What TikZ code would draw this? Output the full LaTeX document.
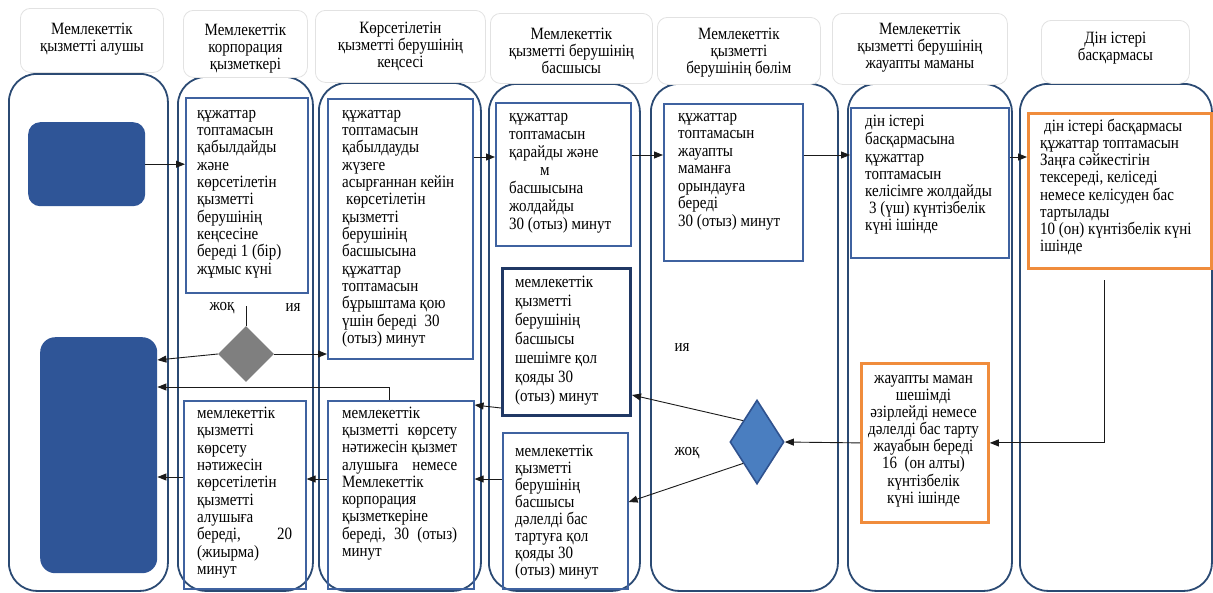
\documentclass[tikz,border=0pt]{standalone}
\usepackage{fontspec}
\setmainfont{Liberation Serif}
\usetikzlibrary{arrows.meta,shapes.geometric,calc}
\definecolor{lanec}{HTML}{2B4A73}
\definecolor{boxc}{HTML}{3F62A0}
\definecolor{boxd}{HTML}{203864}
\definecolor{fillb}{HTML}{2F5597}
\definecolor{diab}{HTML}{4A7EC0}
\definecolor{diabd}{HTML}{2F528F}
\definecolor{grayd}{HTML}{7F7F7F}
\definecolor{orc}{HTML}{F08C3C}
\definecolor{hdrc}{HTML}{E2E2E2}
\definecolor{arrc}{HTML}{1A1A1A}
% text block: width, baselineskip (before vertical stretch), text
\newcommand\boxtext[3]{\scalebox{1}[1.15]{\parbox[t]{#1}{\fontsize{15}{#2}\selectfont\raggedright\strut #3}}}
\newcommand\boxtextc[3]{\scalebox{1}[1.15]{\parbox[t]{#1}{\fontsize{15}{#2}\selectfont\centering\strut #3}}}
\newcommand\hdrtext[2]{\scalebox{1}[1.15]{\parbox{#1}{\fontsize{15}{14.8}\selectfont\centering #2}}}
\begin{document}
\begin{tikzpicture}[x=1pt,y=-1pt,
  lane/.style={draw=lanec, line width=1.8pt, rounded corners=28pt, anchor=north west, inner sep=0pt},
  hdr/.style={draw=hdrc, line width=0.8pt, rounded corners=10pt, fill=white, anchor=north west, inner sep=0pt},
  hdrt/.style={inner sep=0pt},
  bx/.style={draw=boxc, line width=1.6pt, anchor=north west, inner sep=0pt},
  bxd/.style={draw=boxd, line width=3pt, anchor=north west, inner sep=0pt},
  obx/.style={draw=orc, line width=2.8pt, anchor=north west, inner sep=0pt},
  fbx/.style={fill=fillb, rounded corners=12pt, anchor=north west, inner sep=0pt},
  txt/.style={anchor=north west, inner sep=0pt},
  arr/.style={draw=arrc, line width=0.9pt, -{Triangle[length=9pt,width=7pt]}},
  ln/.style={draw=arrc, line width=0.9pt},
  lbl/.style={inner sep=0pt, font=\fontsize{15}{17}\selectfont}
]
\useasboundingbox (0,0) rectangle (1213,592);
% lanes
\node[lane, minimum width=159, minimum height=517] (L1) at (8,73) {};
\node[lane, minimum width=135, minimum height=514] (L2) at (177,76) {};
\node[lane, minimum width=162, minimum height=508] (L3) at (318,82) {};
\node[lane, minimum width=151, minimum height=507] (L4) at (488,83) {};
\node[lane, minimum width=187, minimum height=507] (L5) at (650,83) {};
\node[lane, minimum width=164, minimum height=507] (L6) at (847,83) {};
\node[lane, minimum width=192, minimum height=507] (L7) at (1019,83) {};
% headers
\node[hdr, minimum width=143, minimum height=64] (H1) at (20,8) {};
\node[hdr, minimum width=124, minimum height=67] (H2) at (183,10) {};
\node[hdr, minimum width=170, minimum height=72] (H3) at (315,10) {};
\node[hdr, minimum width=162, minimum height=70] (H4) at (490,13) {};
\node[hdr, minimum width=163, minimum height=67] (H5) at (657,17) {};
\node[hdr, minimum width=175, minimum height=71] (H6) at (832,13) {};
\node[hdr, minimum width=148, minimum height=63] (H7) at (1041,20) {};
\node[hdrt] (H1t) at ([yshift=1pt]H1.center) {\hdrtext{140pt}{Мемлекеттік\\қызметті алушы}};
\node[hdrt] (H2t) at ([yshift=-5pt]H2.center) {\hdrtext{124pt}{Мемлекеттік\\корпорация\\қызметкері}};
\node[hdrt] (H3t) at ([yshift=0pt]H3.center) {\hdrtext{170pt}{Көрсетілетін\\қызметті берушінің\\кеңсесі}};
\node[hdrt] (H4t) at ([yshift=-2pt]H4.center) {\hdrtext{162pt}{Мемлекеттік\\қызметті берушінің\\басшысы}};
\node[hdrt] (H5t) at ([yshift=-2pt]H5.center) {\hdrtext{163pt}{Мемлекеттік\\қызметті\\берушінің бөлім}};
\node[hdrt] (H6t) at ([yshift=1pt]H6.center) {\hdrtext{175pt}{Мемлекеттік\\қызметті берушінің\\жауапты маманы}};
\node[hdrt] (H7t) at ([yshift=4pt]H7.center) {\hdrtext{148pt}{Дін істері\\басқармасы}};
% filled blocks
\node[fbx, minimum width=117, minimum height=84] (R1) at (28,122) {};
\node[fbx, minimum width=117, minimum height=236, rounded corners=15pt] (R2) at (40,337) {};
% boxes
\node[bx, minimum width=122, minimum height=195] (A) at (185,97) {};
\node[bx, minimum width=145, minimum height=260] (B) at (327,98) {};
\node[bx, minimum width=135, minimum height=143] (C) at (495,102) {};
\node[bxd, minimum width=128, minimum height=147] (D) at (501,267) {};
\node[bx, minimum width=125, minimum height=156] (E) at (502,432) {};
\node[bx, minimum width=139, minimum height=157] (F) at (663,103) {};
\node[bx, minimum width=158, minimum height=150] (G) at (850,107) {};
\node[obx, minimum width=183, minimum height=155] (H) at (1027,112) {};
\node[obx, minimum width=127, minimum height=159] (I) at (860,362) {};
\node[bx, minimum width=122, minimum height=188] (J) at (183,400) {};
\node[bx, minimum width=146, minimum height=188] (K) at (327,400) {};
% diamonds
\node[diamond, fill=grayd, minimum width=56, minimum height=56, inner sep=0pt] (GD) at (246,354) {};
\node[diamond, fill=diab, draw=diabd, line width=1.6pt, minimum width=54, minimum height=84, inner sep=0pt] (BD) at (757,442) {};
% texts
\node[txt] (At) at (197,106) {\boxtext{110pt}{15.05pt}{құжаттар\\топтамасын\\қабылдайды\\және\\көрсетілетін\\қызметті\\берушінің\\кеңсесіне\\береді 1 (бір)\\жұмыс күні}};
\node[txt] (Bt) at (342,106) {\boxtext{125pt}{15.05pt}{құжаттар\\топтамасын\\қабылдауды\\жүзеге\\асырғаннан кейін\\\hspace*{4pt}көрсетілетін\\қызметті\\берушінің\\басшысына\\құжаттар\\топтамасын\\бұрыштама қою\\үшін береді\ \ 30\\(отыз) минут}};
\node[txt] (Ct) at (509,109) {\boxtext{118pt}{15.65pt}{құжаттар\\топтамасын\\қарайды және\\\hspace*{31pt}м\\басшысына\\жолдайды\\30 (отыз) минут}};
\node[txt] (Dt) at (515,274) {\boxtext{110pt}{16.5pt}{мемлекеттік\\қызметті\\берушінің\\басшысы\\шешімге қол\\қояды 30\\(отыз) минут}};
\node[txt] (Et) at (515,444) {\boxtext{110pt}{14.8pt}{мемлекеттік\\қызметті\\берушінің\\басшысы\\дәлелді бас\\тартуға қол\\қояды 30\\(отыз) минут}};
\node[txt] (Ft) at (678,109) {\boxtext{120pt}{15.2pt}{құжаттар\\топтамасын\\жауапты\\маманға\\орындауға\\береді\\30 (отыз) минут}};
\node[txt] (Gt) at (865,114) {\boxtext{140pt}{14.95pt}{дін істері\\басқармасына\\құжаттар\\топтамасын\\келісімге жолдайды\\\hspace*{4pt}3 (үш) күнтізбелік\\күні ішінде}};
\node[txt] (Ht) at (1040,119) {\boxtext{168pt}{14.9pt}{\hspace*{4pt}дін істері басқармасы\\құжаттар топтамасын\\Заңға сәйкестігін\\тексереді, келіседі\\немесе келісуден бас\\тартылады\\10 (он) күнтізбелік күні\\ішінде}};
\node[anchor=north, inner sep=0pt] (It) at (923.5,371) {\boxtextc{125pt}{14.9pt}{жауапты маман\\шешімді\\әзірлейді немесе\\дәлелді бас тарту\\жауабын береді\\16\ \ (он алты)\\күнтізбелік\\күні ішінде}};
\node[txt] (Jt) at (197,406) {\boxtext{95pt}{15.1pt}{мемлекеттік\\қызметті\\көрсету\\нәтижесін\\көрсетілетін\\қызметті\\алушыға\\береді,\hfill 20\\(жиырма)\\минут}};
\node[txt] (Kt) at (342,406) {\boxtext{115pt}{15pt}{мемлекеттік\\қызметті\hfill көрсету\\нәтижесін\hfill қызмет\\алушыға\hfill немесе\\Мемлекеттік\\корпорация\\қызметкеріне\\береді,\hfill 30\hfill (отыз)\\минут}};
% labels
\node[lbl] (n1) at (222,308) {\scalebox{1}[1.15]{жоқ}};
\node[lbl] (y1) at (293,308) {\scalebox{1}[1.15]{ия}};
\node[lbl] (y2) at (682,348) {\scalebox{1}[1.15]{ия}};
\node[lbl] (n2) at (687,453) {\scalebox{1}[1.15]{жоқ}};
% connectors
\draw[arr] (R1.east) -- (R1.east -| A.west);
\draw[arr] ([yshift=-59pt]B.north east) -- ([yshift=-55pt]C.north west);
\draw[arr] ([yshift=-53pt]C.north east) -- ([yshift=-52pt]F.north west);
\draw[arr] ([yshift=-52pt]F.north east) -- ([yshift=-48pt]G.north west);
\draw[arr] ([yshift=-50pt]G.north east) -- ([yshift=-45pt]H.north west);
\coordinate (h1) at (1104,280);
\draw[arr] (h1) |- (I.east);
\draw[arr] (I.west) -- (BD.east);
\draw[arr] (BD.north west) -- ([yshift=22pt]D.south east);
\draw[arr] (BD.south west) -- ([yshift=-70pt]E.north east);
\draw[arr] ([yshift=9pt]D.south west) -- ([yshift=-5pt]K.north east);
\draw[arr] ([yshift=-47pt]E.north west) -- ([yshift=-79pt]K.north east);
\draw[arr] ([yshift=-79pt]K.north west) -- ([yshift=-79pt]J.north east);
\draw[arr] ([yshift=-77pt]J.north west) -- ([yshift=-140pt]R2.north east);
\draw[arr] ([xshift=62pt]K.north west) |- ([yshift=-50pt]R2.north east);
\coordinate (g0) at (246,306);
\draw[ln] (g0) -- (GD.north);
\draw[arr] (GD.west) -- ([yshift=-23pt]R2.north east);
\draw[arr] (GD.east) -- (GD.east -| B.west);
\end{tikzpicture}
\end{document}
